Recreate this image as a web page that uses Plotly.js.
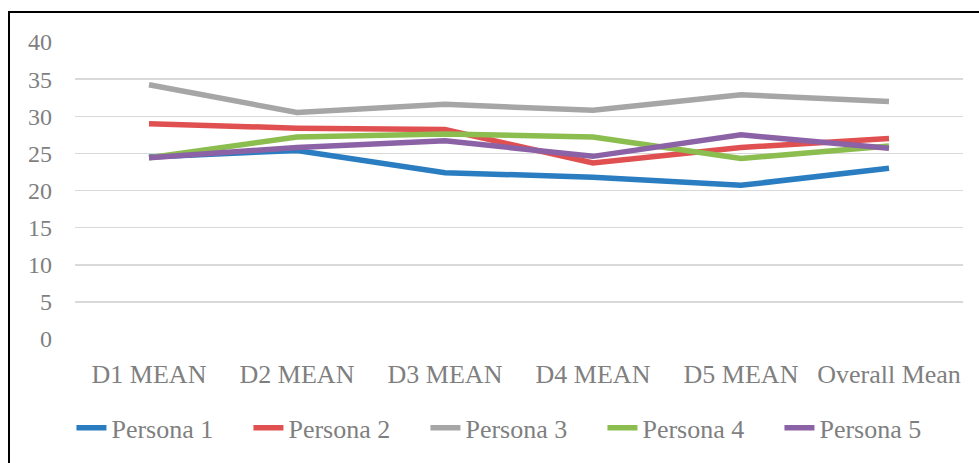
<!DOCTYPE html>
<html>
<head>
<meta charset="utf-8">
<script src="https://cdn.plot.ly/plotly-3.0.1.min.js"></script>
<style>
html,body{margin:0;padding:0;overflow:hidden;background:#fff;}
#chart{width:979px;height:463px;position:absolute;left:0;top:0;}
#frame{position:absolute;left:8px;top:11px;width:1100px;height:600px;border:2px solid #000;pointer-events:none;box-sizing:border-box;}
</style>
</head>
<body>
<div id="chart"></div>
<div id="frame"></div>
<script>
const categories = ["D1 MEAN", "D2 MEAN", "D3 MEAN", "D4 MEAN", "D5 MEAN", "Overall Mean"];
const seriesNames = ["Persona 1", "Persona 2", "Persona 3", "Persona 4", "Persona 5"];
const persona1 = [24.5, 25.4, 22.4, 21.8, 20.7, 23.0];
const persona2 = [29.0, 28.4, 28.2, 23.7, 25.8, 27.0];
const persona3 = [34.25, 30.5, 31.6, 30.8, 32.9, 32.0];
const persona4 = [24.4, 27.2, 27.6, 27.2, 24.3, 26.0];
const persona5 = [24.4, 25.8, 26.7, 24.6, 27.5, 25.7];
const colors = ["#2a7dc1", "#e05050", "#a6a6a6", "#8cbd4f", "#8c62a6"];
const yTicks = [0, 5, 10, 15, 20, 25, 30, 35, 40];

const allSeries = [persona1, persona2, persona3, persona4, persona5];
const traces = allSeries.map((vals, i) => ({
  type: "scatter",
  mode: "lines",
  x: categories,
  y: vals,
  name: seriesNames[i],
  line: {color: colors[i], width: 5.5},
  hoverinfo: "skip"
}));

const font = {family: "Liberation Serif, Times New Roman, serif", color: "#7f7f7f"};

const layout = {
  width: 979,
  height: 463,
  margin: {l: 75, r: 16, t: 42, b: 124, autoexpand: false},
  paper_bgcolor: "#fff",
  plot_bgcolor: "#fff",
  showlegend: true,
  font: Object.assign({size: 26}, font),
  xaxis: {
    type: "category",
    showgrid: false,
    zeroline: false,
    showline: false,
    ticks: "",
    tickfont: Object.assign({size: 26}, font),
    ticklabelstandoff: 17,
    range: [-0.5, 5.5]
  },
  yaxis: {
    range: [0, 40],
    tickvals: yTicks,
    ticktext: yTicks.map(String),
    showgrid: true,
    gridcolor: "#d9d9d9",
    gridwidth: 1.5,
    zeroline: false,
    showline: false,
    ticks: "",
    tickfont: Object.assign({size: 24}, font),
    ticklabelstandoff: 22
  },
  legend: {
    orientation: "h",
    x: -0.004,
    xanchor: "left",
    y: -0.22,
    yanchor: "top",
    font: Object.assign({size: 26}, font),
    itemwidth: 30,
    entrywidth: 132,
    traceorder: "normal"
  }
};

Plotly.newPlot("chart", traces, layout, {displayModeBar: false, staticPlot: true});
</script>
</body>
</html>
